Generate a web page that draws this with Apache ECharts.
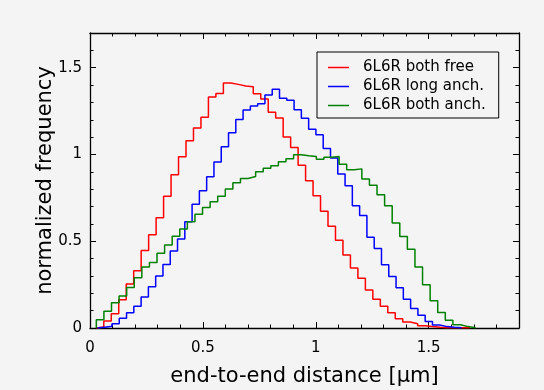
<!DOCTYPE html>
<html>
<head>
<meta charset="utf-8">
<script src="https://cdn.jsdelivr.net/npm/echarts@6/dist/echarts.min.js"></script>
<style>
  html, body { margin: 0; padding: 0; background: #f4f4f4; }
  #chart { width: 544px; height: 390px; }
</style>
</head>
<body>
<div id="chart"></div>
<script>
// Histograms of the end-to-end distance (50 bins each, normalized)
const seriesNames = ['6L6R both free', '6L6R long anch.', '6L6R both anch.'];
const seriesColors = ['#ff0000', '#0000ff', '#008000'];

// left edge of the first bin and bin width, in µm
const binStart = [0.028, 0.0328, 0.028];
const binWidth = [0.0331, 0.03226, 0.0336];

const bothFree = [
  0.006, 0.040, 0.082, 0.163, 0.253, 0.330, 0.446, 0.538, 0.636, 0.759,
  0.883, 0.987, 1.079, 1.153, 1.215, 1.331, 1.351, 1.412, 1.404, 1.395,
  1.390, 1.350, 1.320, 1.243, 1.210, 1.100, 1.040, 0.938, 0.849, 0.762,
  0.673, 0.586, 0.505, 0.420, 0.346, 0.286, 0.219, 0.165, 0.126, 0.088,
  0.054, 0.034, 0.025, 0.013, 0.008, 0.004, 0.002, 0.002, 0.001, 0.001
];
const longAnch = [
  0.005, 0.010, 0.025, 0.056, 0.088, 0.126, 0.178, 0.238, 0.299, 0.366,
  0.444, 0.513, 0.613, 0.713, 0.791, 0.872, 0.956, 1.044, 1.125, 1.201,
  1.256, 1.280, 1.293, 1.343, 1.376, 1.324, 1.312, 1.257, 1.209, 1.146,
  1.113, 1.034, 0.979, 0.887, 0.820, 0.705, 0.648, 0.523, 0.458, 0.364,
  0.297, 0.232, 0.165, 0.113, 0.073, 0.038, 0.017, 0.008, 0.004, 0.002
];
const bothAnch = [
  0.048, 0.096, 0.146, 0.184, 0.234, 0.289, 0.351, 0.377, 0.431, 0.479,
  0.529, 0.571, 0.613, 0.655, 0.695, 0.728, 0.759, 0.801, 0.837, 0.862,
  0.873, 0.900, 0.920, 0.935, 0.958, 0.976, 0.999, 0.993, 0.988, 0.972,
  0.984, 0.988, 0.943, 0.912, 0.917, 0.859, 0.823, 0.768, 0.705, 0.605,
  0.527, 0.454, 0.351, 0.249, 0.157, 0.090, 0.044, 0.019, 0.008, 0.002
];
const histCounts = [bothFree, longAnch, bothAnch];

const xTicks = ['0', '0.5', '1', '1.5'];
const yTicks = ['0', '0.5', '1', '1.5'];
const xRange = [0, 1.9];
const yRange = [0, 1.7];

// outline of a step histogram: up from the baseline, across every bin, back down
function stepOutline(start, width, counts) {
  const pts = [[start, 0]];
  counts.forEach((c, k) => pts.push([start + k * width, c]));
  const end = start + counts.length * width;
  pts.push([end, counts[counts.length - 1]]);
  pts.push([end, 0]);
  return pts;
}

const FONT = 'DejaVu Sans';
const INK = '#000';

function fmt(labels) {
  return v => {
    const s = String(Math.round(v * 10) / 10);
    return labels.indexOf(s) >= 0 ? s : '';
  };
}

// major (labelled) and minor tick axes, mirrored on the opposite side
function makeAxis(kind, range, major, pos, labels, name) {
  const isMajor = major === 0.5;
  const ax = {
    type: 'value',
    min: range[0], max: range[1], interval: major,
    position: pos,
    axisLine: { show: isMajor, onZero: false, lineStyle: { color: INK, width: 1.3 } },
    axisTick: { show: true, inside: true, length: isMajor ? 6 : 3.5,
                lineStyle: { color: INK, width: 1 } },
    axisLabel: { show: false },
    splitLine: { show: false }
  };
  if (labels) {
    ax.axisLabel = {
      show: true, showMaxLabel: false, formatter: fmt(labels),
      fontFamily: FONT, fontSize: 15, color: INK,
      margin: kind === 'x' ? 13 : 8
    };
  }
  if (name) {
    ax.name = name;
    ax.nameLocation = 'middle';
    ax.nameMoveOverlap = false;
    ax.nameTextStyle = { fontFamily: FONT, fontSize: 21, color: INK };
    ax.nameGap = kind === 'x' ? 38 : 34;
  }
  return ax;
}

const chart = echarts.init(document.getElementById('chart'), null, { renderer: 'canvas' });
chart.setOption({
  animation: false,
  backgroundColor: '#f4f4f4',
  grid: { left: 90, right: 25, top: 33, bottom: 62, containLabel: false, outerBoundsMode: 'none' },
  xAxis: [
    makeAxis('x', xRange, 0.5, 'bottom', xTicks, 'end-to-end distance [µm]'),
    makeAxis('x', xRange, 0.1, 'bottom'),
    makeAxis('x', xRange, 0.5, 'top'),
    makeAxis('x', xRange, 0.1, 'top')
  ],
  yAxis: [
    makeAxis('y', yRange, 0.5, 'left', yTicks, 'normalized frequency'),
    makeAxis('y', yRange, 0.1, 'left'),
    makeAxis('y', yRange, 0.5, 'right'),
    makeAxis('y', yRange, 0.1, 'right')
  ],
  legend: {
    data: seriesNames,
    orient: 'vertical',
    left: 317, top: 52,
    padding: [8, 13, 5, 11],
    icon: 'rect',
    itemWidth: 21, itemHeight: 1.5, itemGap: 4,
    borderColor: INK, borderWidth: 1,
    backgroundColor: '#f4f4f4',
    textStyle: { fontFamily: FONT, fontSize: 15, color: INK, padding: [0, 0, 0, 9] }
  },
  series: seriesNames.map((name, i) => ({
    name: name,
    type: 'line',
    step: 'end',
    xAxisIndex: 0, yAxisIndex: 0,
    symbol: 'none', showSymbol: false,
    lineStyle: { color: seriesColors[i], width: 1.5 },
    itemStyle: { color: seriesColors[i] },
    data: stepOutline(binStart[i], binWidth[i], histCounts[i])
  }))
});
</script>
</body>
</html>
